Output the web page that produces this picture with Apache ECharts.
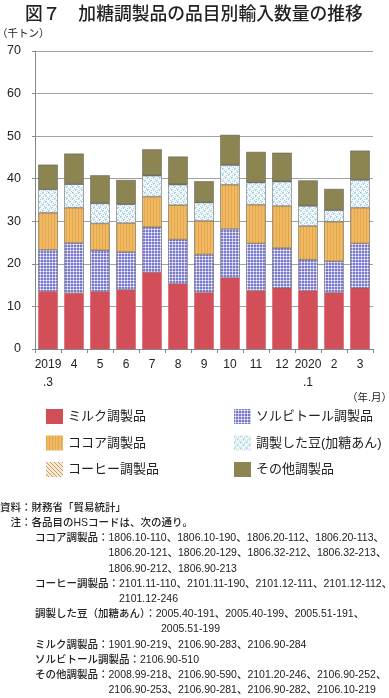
<!DOCTYPE html>
<html><head><meta charset="utf-8">
<script src="https://cdn.jsdelivr.net/npm/echarts@6/dist/echarts.min.js"></script>
<style>html,body{margin:0;padding:0;background:#fff}#c{width:389px;height:698px}</style>
</head><body><div id="c"></div><script>
// ---- data ----
const categories = ['2019\n.3','4','5','6','7','8','9','10','11','12','2020\n.1','2','3'];
const seriesNames = ['ミルク調製品','ソルビトール調製品','ココア調製品','調製した豆(加糖あん)','コーヒー調製品','その他調製品'];
const milk     = [13.5,13.1,13.5,13.9,18.0,15.3,13.3,16.7,13.7,14.3,13.7,13.2,14.3];
const sorbitol = [9.8,11.8,9.7,8.9,10.6,10.4,8.9,11.5,11.1,9.4,7.3,7.4,10.5];
const cocoa    = [8.7,8.3,6.3,6.8,7.2,8.1,7.9,10.4,9.1,9.9,7.9,9.3,8.4];
const beans    = [5.5,5.5,4.7,4.4,4.9,4.8,4.3,4.6,5.2,5.7,4.7,2.7,6.5];
const coffee   = [0.1,0.1,0.1,0.1,0.1,0.1,0.1,0.1,0.1,0.1,0.1,0.1,0.1];
const others   = [5.7,7.1,6.5,5.6,6.1,6.5,4.9,7.0,7.1,6.7,5.9,4.9,6.8];
const yMin = 0, yMax = 70, yStep = 10;
const titleText = '図７　加糖調製品の品目別輸入数量の推移';
const unitText = '（千トン）';
const xUnitText = '（年.月）';
const noteLines = [
  ['資料：財務省「貿易統計」', 0],
  ['注：各品目のHSコードは、次の通り。', 10.5],
  ['ココア調製品：1806.10-110、1806.10-190、1806.20-112、1806.20-113、', 35],
  ['1806.20-121、1806.20-129、1806.32-212、1806.32-213、', 108.5],
  ['1806.90-212、1806.90-213', 108.5],
  ['コーヒー調製品：2101.11-110、2101.11-190、2101.12-111、2101.12-112、', 35],
  ['2101.12-246', 119],
  ['調製した豆（加糖あん）：2005.40-191、2005.40-199、2005.51-191、', 35],
  ['2005.51-199', 161],
  ['ミルク調製品：1901.90-219、2106.90-283、2106.90-284', 35],
  ['ソルビトール調製品：2106.90-510', 35],
  ['その他調製品：2008.99-218、2106.90-590、2101.20-246、2106.90-252、', 35],
  ['2106.90-253、2106.90-281、2106.90-282、2106.10-219', 108.5]
];

// ---- patterns ----
function pat(w, h, draw) {
  const c = document.createElement('canvas'); c.width = w; c.height = h;
  const g = c.getContext('2d'); draw(g);
  return { image: c, repeat: 'repeat' };
}
const redFill = '#d24f5a';
const oliveFill = '#8d8551';
const purplePat = pat(3, 3, g => {
  g.fillStyle = '#7a7ac8'; g.fillRect(0,0,3,3);
  g.fillStyle = '#c2c2ec'; g.fillRect(0,1,1,1); g.fillRect(2,1,1,1); g.fillRect(1,0,1,1); g.fillRect(1,2,1,1);
  g.fillStyle = '#f6f6ff'; g.fillRect(1,1,1,1);
});
const orangePat = pat(3, 3, g => {
  g.fillStyle = '#f1b961'; g.fillRect(0,0,3,3);
  g.fillStyle = '#e2a64e'; g.fillRect(0,0,1,3);
});
const beansPat = pat(6, 6, g => {
  g.fillStyle = '#f3f9fb'; g.fillRect(0,0,6,6);
  g.fillStyle = '#a9d0de';
  [[0,0],[1,0],[0,1],[3,3],[4,3],[3,4],[4,1],[1,4],[2,2],[5,5]].forEach(p => g.fillRect(p[0],p[1],1,1));
});
const coffeePat = pat(4, 4, g => {
  g.fillStyle = '#f7e9d2'; g.fillRect(0,0,4,4);
  g.fillStyle = '#c39a68';
  for (let i = 0; i < 4; i++) g.fillRect(i, i, 1, 1);
});

const fills = [redFill, purplePat, orangePat, beansPat, coffeePat, oliveFill];
const values = [milk, sorbitol, cocoa, beans, coffee, others];
const FONT = '"Liberation Sans", "Noto Sans CJK JP", sans-serif';

const series = seriesNames.map((n, i) => ({
  name: n, type: 'bar', stack: 'total', data: values[i],
  barCategoryGap: '25%',
  itemStyle: { color: fills[i], borderColor: i === 0 ? 'transparent' : '#555', borderWidth: i === 0 ? 0 : 0.5 },
  emphasis: { disabled: true }
}));

const graphics = [
  { type: 'text', left: 25, top: 4, style: { text: titleText, fontSize: 17.8, fontWeight: 500, fontFamily: '"Noto Sans CJK JP", sans-serif', fill: '#222' } },
  { type: 'text', x: -3, y: 33, style: { text: unitText, fontSize: 10.5, fontFamily: '"Noto Sans CJK JP", sans-serif', fill: '#222', verticalAlign: 'middle' } },
  { type: 'text', x: 392, y: 398, style: { text: xUnitText, fontSize: 10.5, fontFamily: FONT, fill: '#222', align: 'right', verticalAlign: 'middle' } }
];
noteLines.forEach((l, i) => {
  graphics.push({ type: 'text', x: l[1], y: 508 + 15.2 * i, style: { text: l[0], fontSize: 10.5, fontWeight: 500, fontFamily: FONT, fill: '#222', verticalAlign: 'middle' } });
});

const legendCommon = { orient: 'vertical', itemWidth: 17, itemHeight: 15, itemGap: 11.5, icon: 'rect',
  textStyle: { fontSize: 13, color: '#222', fontFamily: FONT, lineHeight: 15 }, itemStyle: { borderWidth: 0 }, selectedMode: false };

const chart = echarts.init(document.getElementById('c'), null, { renderer: 'canvas' });
chart.setOption({
  animation: false,
  backgroundColor: '#fff',
  textStyle: { fontFamily: FONT },
  grid: { left: 35, right: 16, top: 51, bottom: 349 },
  legend: [
    Object.assign({ left: 41, top: 404, data: [seriesNames[0], seriesNames[2], seriesNames[4]] }, legendCommon),
    Object.assign({ left: 229, top: 404, data: [seriesNames[1], seriesNames[3], seriesNames[5]] }, legendCommon)
  ],
  xAxis: {
    type: 'category', data: categories,
    axisLine: { lineStyle: { color: '#888', width: 1 } },
    axisTick: { show: true, length: 4, lineStyle: { color: '#888' } },
    axisLabel: { fontSize: 12, color: '#222', lineHeight: 18, margin: 7, interval: 0, fontFamily: FONT }
  },
  yAxis: {
    type: 'value', min: yMin, max: yMax, interval: yStep,
    axisLine: { show: true, lineStyle: { color: '#888' } },
    axisTick: { show: true, length: 3, lineStyle: { color: '#888' } },
    splitLine: { lineStyle: { color: '#a3a3a3' } },
    axisLabel: { fontSize: 12.5, color: '#222', margin: 14, fontFamily: FONT }
  },
  series: series,
  graphic: graphics
});
</script></body></html>
